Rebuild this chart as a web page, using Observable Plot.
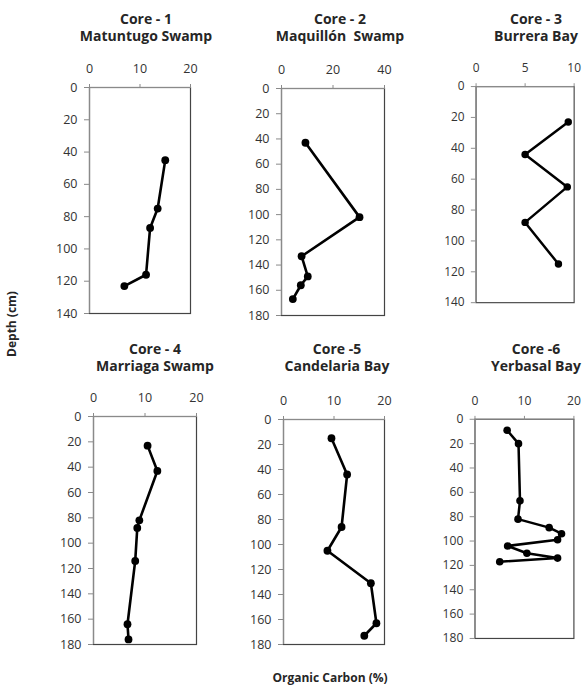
<!DOCTYPE html>
<html><head><meta charset="utf-8">
<script src="https://cdn.jsdelivr.net/npm/d3@7"></script>
<script src="https://cdn.jsdelivr.net/npm/@observablehq/plot@0.6"></script>
<style>
html,body{margin:0;padding:0;background:#fff;overflow:hidden;}
#root{position:relative;width:587px;height:688px;font-family:"Open Sans",sans-serif;overflow:hidden;}
.title{position:absolute;transform:translateX(-50%);text-align:center;font-weight:bold;font-size:14px;line-height:17px;color:#262626;white-space:pre;}
.panel{position:absolute;}
.ylab{position:absolute;font-weight:bold;font-size:12px;color:#262626;white-space:nowrap;transform:translate(-50%,-50%) rotate(-90deg);}
.xlab{position:absolute;font-weight:bold;font-size:12px;color:#262626;white-space:nowrap;transform:translate(-50%,-50%);}
</style></head><body><div id="root"></div>
<script>
// ---- data ----
const coreLabels = ["Core - 1", "Core - 2", "Core - 3", "Core - 4", "Core -5", "Core -6"];
const siteNames = ["Matuntugo Swamp", "Maquillón  Swamp", "Burrera Bay", "Marriaga Swamp", "Candelaria Bay", "Yerbasal Bay"];

const carbon1 = [15, 13.5, 12, 11.2, 6.9];
const depth1  = [45, 75, 87, 116, 123];
const carbon2 = [9.3, 30.3, 7.8, 10.2, 7.5, 4.4];
const depth2  = [43, 102, 133, 149, 156, 167];
const carbon3 = [9.4, 5, 9.3, 5, 8.4];
const depth3  = [23, 44, 65, 88, 115];
const carbon4 = [10.5, 12.4, 8.9, 8.5, 8.1, 6.6, 6.8];
const depth4  = [23, 43, 82, 88, 114, 164, 176];
const carbon5 = [9.5, 12.6, 11.5, 8.7, 17.3, 18.4, 16];
const depth5  = [15, 44, 86, 105, 131, 163, 173];
const carbon6 = [6.5, 8.8, 9.1, 8.7, 15, 17.5, 16.7, 6.6, 10.5, 16.7, 5];
const depth6  = [9, 20, 67, 82, 89, 94, 99, 104, 110, 114, 117];

const xMax = [20, 40, 10, 20, 20, 20];
const yMax = [140, 180, 140, 180, 180, 180];
const xTicks = [[0, 10, 20], [0, 20, 40], [0, 5, 10], [0, 10, 20], [0, 10, 20], [0, 10, 20]];
const yTickStep = 20;

const xAxisTitle = "Organic Carbon (%)";
const yAxisTitle = "Depth (cm)";

const carbons = [carbon1, carbon2, carbon3, carbon4, carbon5, carbon6];
const depths = [depth1, depth2, depth3, depth4, depth5, depth6];

// ---- layout (plot-area boxes: x0, x1, y0, y1) ----
const frames = [
  [89, 190, 87, 313],
  [281, 384, 88, 315],
  [478, 581, 88, 315],
  [93, 196, 416, 644],
  [283, 384, 419, 644],
  [476, 578, 420, 646]
];
const titleX = [146, 340, 536, 155, 337, 536];
const titleTop = [10, 10, 10, 340, 340, 340];

const root = document.getElementById("root");
const ML = 50, MR = 14, MT = 40, MB = 8;

for (let i = 0; i < 6; i++) {
  const [x0, x1, y0, y1] = frames[i];
  const data = carbons[i].map((c, k) => ({c, d: depths[i][k]}));
  const yt = d3.range(0, yMax[i] + 1, yTickStep);
  const chart = Plot.plot({
    width: (x1 - x0) + ML + MR,
    height: (y1 - y0) + MT + MB,
    marginLeft: ML, marginRight: MR, marginTop: MT, marginBottom: MB,
    style: {fontFamily: "Open Sans, sans-serif", fontSize: "12.5px", color: "#333", background: "transparent", overflow: "visible"},
    x: {type: "linear", domain: [0, xMax[i]], ticks: xTicks[i], axis: null},
    y: {type: "linear", domain: [0, yMax[i]], reverse: true, ticks: yt, axis: null},
    marks: [
      Plot.frame({stroke: "#444", strokeWidth: 1.2}),
      Plot.ruleY([0], {stroke: "#8a8a8a", strokeWidth: 1.2}),
      Plot.ruleX([0], {stroke: "#8a8a8a", strokeWidth: 1.2}),
      Plot.axisX(xTicks[i], {anchor: "top", tickSize: 4, tickPadding: 11, stroke: "#8a8a8a", fill: "#333", label: null}),
      Plot.axisY(yt, {anchor: "left", tickSize: 5, tickPadding: 7, stroke: "#8a8a8a", fill: "#333", label: null}),
      Plot.line(data, {x: "c", y: "d", stroke: "#000", strokeWidth: 2.6, strokeLinejoin: "round"}),
      Plot.dot(data, {x: "c", y: "d", r: 3.9, fill: "#000", stroke: "none"})
    ]
  });
  const wrap = document.createElement("div");
  wrap.className = "panel";
  wrap.style.left = (x0 - ML) + "px";
  wrap.style.top = (y0 - MT) + "px";
  wrap.appendChild(chart);
  root.appendChild(wrap);

  const t = document.createElement("div");
  t.className = "title";
  t.style.left = titleX[i] + "px";
  t.style.top = titleTop[i] + "px";
  t.textContent = coreLabels[i] + "\n" + siteNames[i];
  root.appendChild(t);
}

const yl = document.createElement("div");
yl.className = "ylab";
yl.style.left = "11px"; yl.style.top = "324px";
yl.textContent = yAxisTitle;
root.appendChild(yl);

const xl = document.createElement("div");
xl.className = "xlab";
xl.style.left = "330px"; xl.style.top = "677px";
xl.textContent = xAxisTitle;
root.appendChild(xl);
</script>
</body></html>
